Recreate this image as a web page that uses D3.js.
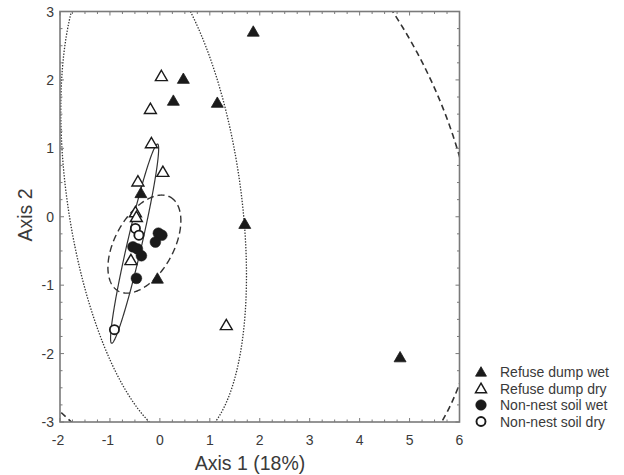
<!DOCTYPE html>
<html>
<head>
<meta charset="utf-8">
<script src="https://cdn.jsdelivr.net/npm/d3@7"></script>
<style>
  html, body { margin: 0; padding: 0; background: #fff; }
  svg { display: block; font-family: "Liberation Sans", Arial, sans-serif; }
</style>
</head>
<body>
<svg id="chart" width="624" height="475"></svg>
<script>
// ---- data ----
const categories = ["Refuse dump wet", "Refuse dump dry", "Non-nest soil wet", "Non-nest soil dry"];

const refuseWet = [[1.87, 2.69], [0.47, 2.00], [0.27, 1.68], [1.15, 1.65], [-0.38, 0.33],
                   [1.70, -0.12], [-0.05, -0.92], [4.81, -2.07]];
const refuseDry = [[0.03, 2.04], [-0.19, 1.56], [-0.17, 1.06], [0.06, 0.64], [-0.44, 0.50],
                   [-0.49, 0.05], [-0.47, -0.02], [-0.58, -0.65], [1.33, -1.60]];
const soilWet   = [[-0.03, -0.24], [0.04, -0.27], [-0.09, -0.37], [-0.54, -0.44],
                   [-0.45, -0.47], [-0.37, -0.57], [-0.47, -0.90]];
const soilDry   = [[-0.49, -0.17], [-0.42, -0.27], [-0.91, -1.65]];

// ellipses: centre (cx, cy) and two conjugate semi-diameters (a, b), data units
const ellipseCentres = [[0.602, 0.722], [-0.125, 0.349], [-0.31, -0.40], [-0.506, -0.393]];
const ellipseAxisA   = [[3.67, -4.727], [0.706, -3.61], [0.52, 0.686], [0.46, 1.456]];
const ellipseAxisB   = [[4.428, 1.838], [1.72, 0.178], [0.513, -0.208], [0.142, -0.024]];
const ellipseStyles  = ["bigdash", "dot", "dash", "solid"];

const xTicks = [-2, -1, 0, 1, 2, 3, 4, 5, 6];
const yTicks = [-3, -2, -1, 0, 1, 2, 3];
const xLabel = "Axis 1 (18%)";
const yLabel = "Axis 2";

// ---- layout ----
const svg = d3.select("#chart");
const L = 60, T = 11.5, R = 459.5, B = 422;
const x = d3.scaleLinear().domain([-2, 6]).range([L, R]);
const y = d3.scaleLinear().domain([-3, 3]).range([B, T]);
const ink = "#1a1a1a", textCol = "#3a3a3a", frameCol = "#7a7a7a";

svg.append("defs").append("clipPath").attr("id", "clip")
  .append("rect").attr("x", L).attr("y", T).attr("width", R - L).attr("height", B - T);

// ---- ellipses ----
const styleMap = {
  bigdash: { dash: "6,4", w: 1.6 },
  dot:     { dash: "1.4,1.5", w: 1.3 },
  dash:    { dash: "7,4", w: 1.4 },
  solid:   { dash: null, w: 1.2 }
};
const ts = d3.range(0, 360, 1).map(d => d * Math.PI / 180);
const line = d3.line().x(d => x(d[0])).y(d => y(d[1])).curve(d3.curveLinearClosed);
const eg = svg.append("g").attr("clip-path", "url(#clip)");
ellipseCentres.forEach((c, i) => {
  const a = ellipseAxisA[i], b = ellipseAxisB[i];
  const pts = ts.map(t => [c[0] + a[0] * Math.cos(t) + b[0] * Math.sin(t),
                           c[1] + a[1] * Math.cos(t) + b[1] * Math.sin(t)]);
  const st = styleMap[ellipseStyles[i]];
  eg.append("path").attr("d", line(pts))
    .attr("fill", "none").attr("stroke", "#333").attr("stroke-width", st.w)
    .attr("stroke-dasharray", st.dash);
});

// ---- frame & ticks ----
svg.append("rect").attr("x", L).attr("y", T).attr("width", R - L).attr("height", B - T)
  .attr("fill", "none").attr("stroke", frameCol).attr("stroke-width", 1.6);

const xMinor = d3.range(-2, 6.001, 0.25);
const yMinor = d3.range(-3, 3.001, 0.25);
const tg = svg.append("g").attr("stroke", frameCol).attr("stroke-width", 1);
xMinor.forEach(v => {
  const len = Number.isInteger(v) ? 4 : 2.5;
  tg.append("line").attr("x1", x(v)).attr("x2", x(v)).attr("y1", B).attr("y2", B - len);
  tg.append("line").attr("x1", x(v)).attr("x2", x(v)).attr("y1", T).attr("y2", T + len);
});
yMinor.forEach(v => {
  const len = Number.isInteger(v) ? 4 : 2.5;
  tg.append("line").attr("y1", y(v)).attr("y2", y(v)).attr("x1", L).attr("x2", L + len);
  tg.append("line").attr("y1", y(v)).attr("y2", y(v)).attr("x1", R).attr("x2", R - len);
});

svg.append("g").selectAll("text").data(xTicks).join("text")
  .attr("x", d => x(d) - (d < 0 ? 2 : 0)).attr("y", B + 23)
  .attr("text-anchor", "middle").attr("font-size", 14).attr("fill", textCol)
  .text(d => d);
svg.append("g").selectAll("text").data(yTicks).join("text")
  .attr("x", L - 6).attr("y", d => y(d)).attr("dy", "0.36em")
  .attr("text-anchor", "end").attr("font-size", 14).attr("fill", textCol)
  .text(d => d);

svg.append("text").attr("x", 250).attr("y", 470).attr("text-anchor", "middle")
  .attr("font-size", 19.5).attr("fill", textCol).text(xLabel);
svg.append("text").attr("transform", "translate(32,215) rotate(-90)")
  .attr("text-anchor", "middle").attr("font-size", 19.5).attr("fill", textCol).text(yLabel);

// ---- points ----
const tri = d3.symbol().type(d3.symbolTriangle).size(62);
const pg = svg.append("g");
function triangles(data, filled) {
  pg.append("g").selectAll("path").data(data).join("path")
    .attr("d", tri)
    .attr("transform", d => `translate(${x(d[0])},${y(d[1])})`)
    .attr("fill", filled ? ink : "#fff")
    .attr("stroke", ink).attr("stroke-width", filled ? 0.8 : 1.4)
    .attr("stroke-linejoin", "miter");
}
function circles(data, filled) {
  pg.append("g").selectAll("circle").data(data).join("circle")
    .attr("cx", d => x(d[0])).attr("cy", d => y(d[1]))
    .attr("r", filled ? 5.4 : 4.6)
    .attr("fill", filled ? ink : "#fff")
    .attr("stroke", ink).attr("stroke-width", filled ? 0.5 : 1.8);
}
triangles(refuseDry, false);
circles(soilDry, false);
circles(soilWet, true);
triangles(refuseWet, true);

// ---- legend ----
const lg = svg.append("g");
const legendRows = [
  { kind: "tri", filled: true },
  { kind: "tri", filled: false },
  { kind: "circ", filled: true },
  { kind: "circ", filled: false }
];
legendRows.forEach((r, i) => {
  const yy = 372 + i * 16.5;
  if (r.kind === "tri") {
    lg.append("path").attr("d", d3.symbol().type(d3.symbolTriangle).size(52)())
      .attr("transform", `translate(481,${yy + 1})`)
      .attr("fill", r.filled ? ink : "#fff").attr("stroke", ink)
      .attr("stroke-width", r.filled ? 0.8 : 1.5);
  } else {
    lg.append("circle").attr("cx", 481).attr("cy", yy).attr("r", r.filled ? 5.3 : 4.5)
      .attr("fill", r.filled ? ink : "#fff").attr("stroke", ink)
      .attr("stroke-width", r.filled ? 0.5 : 1.9);
  }
  lg.append("text").attr("x", 500).attr("y", yy).attr("dy", "0.36em")
    .attr("font-size", 14).attr("fill", textCol).text(categories[i]);
});
</script>
</body>
</html>
